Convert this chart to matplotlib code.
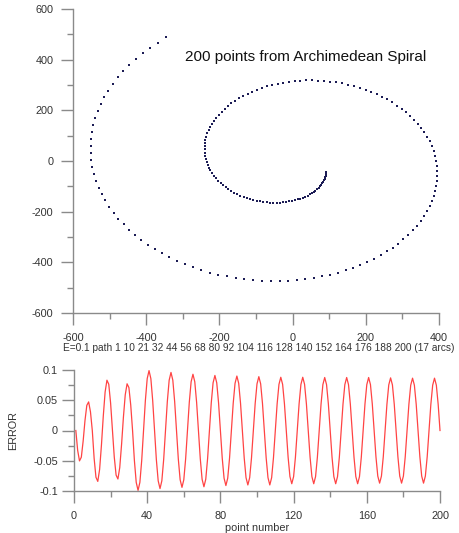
import numpy as np
import matplotlib.pyplot as plt
from matplotlib.ticker import MultipleLocator, FuncFormatter

plt.rcParams['font.family'] = ['Liberation Sans', 'DejaVu Sans']
plt.rcParams['axes.unicode_minus'] = False

# spiral: r = 50*t, 200 points, t = 2, 2.05, ... (clockwise)
spiral_scale = 50.0
t_start = 2.0
t_step = 0.05
n_points = 200

# arc break points (from the path label) and the error lobes of each arc
arc_breaks = [1, 10, 21, 32, 44, 56, 68, 80, 92, 104, 116, 128, 140, 152, 164, 176, 188, 200]
arc_low = [0.051, 0.085, 0.081, 0.099, 0.096, 0.094, 0.093, 0.091, 0.090,
           0.090, 0.088, 0.088, 0.088, 0.088, 0.087, 0.087, 0.087]
arc_high = [0.048, 0.084, 0.078, 0.099, 0.096, 0.093, 0.091, 0.090, 0.089,
            0.088, 0.088, 0.0876, 0.0876, 0.0876, 0.087, 0.0865, 0.0865]

title = "200 points from Archimedean Spiral"
path_label = "E=0.1 path " + " ".join(str(b) for b in arc_breaks) + " (%d arcs)" % (len(arc_breaks) - 1)

t = t_start + t_step * np.arange(n_points)
xs = spiral_scale * t * np.sin(t)
ys = spiral_scale * t * np.cos(t)

pt = []
err = []
for k in range(len(arc_breaks) - 1):
    a, b = arc_breaks[k], arc_breaks[k + 1]
    last = (k == len(arc_breaks) - 2)
    for i in range(a, b + 1 if last else b):
        u = (i - a) / (b - a)
        s = np.sin(2 * np.pi * u)
        amp = arc_low[k] if u <= 0.5 else arc_high[k]
        pt.append(i)
        err.append(-amp * s)

spine_col = '#8a8a8a'
lab_col = '#333333'


def style(ax, pad_x, pad_y):
    for s in ['top', 'right']:
        ax.spines[s].set_visible(False)
    for s in ['left', 'bottom']:
        ax.spines[s].set_color(spine_col)
        ax.spines[s].set_linewidth(1.0)
    ax.tick_params(which='major', length=8.5, width=1.0, color=spine_col,
                   labelsize=7.8, labelcolor=lab_col)
    ax.tick_params(which='minor', length=4.5, width=1.0, color=spine_col)
    ax.tick_params(axis='x', pad=pad_x)
    ax.tick_params(axis='y', pad=pad_y)


fig = plt.figure(figsize=(4.59, 5.33), dpi=100)

ax1 = fig.add_axes([73 / 459, 1 - 313 / 533, 366 / 459, 304 / 533])
ax1.plot(xs, ys, 's', ms=1.8, color='#1c1c55', mew=0, clip_on=False)
ax1.set_xlim(-600, 400)
ax1.set_ylim(-600, 600)
ax1.xaxis.set_major_locator(MultipleLocator(200))
ax1.xaxis.set_minor_locator(MultipleLocator(100))
ax1.yaxis.set_major_locator(MultipleLocator(200))
ax1.yaxis.set_minor_locator(MultipleLocator(100))
style(ax1, 6, 5.5)
ax1.text(-294, 410, title, ha='left', va='center', fontsize=11, color='#111111')

fig.text(259 / 459, 1 - 348 / 533, path_label, ha='center', va='center',
         fontsize=7.3, color=lab_col)

ax2 = fig.add_axes([74 / 459, 1 - 491 / 533, 366 / 459, 121 / 533])
ax2.plot(pt, err, color='#ff4444', lw=0.9, clip_on=False)
ax2.set_xlim(0, 200)
ax2.set_ylim(-0.1, 0.1)
ax2.xaxis.set_major_locator(MultipleLocator(40))
ax2.xaxis.set_minor_locator(MultipleLocator(20))
ax2.yaxis.set_major_locator(MultipleLocator(0.05))
ax2.yaxis.set_minor_locator(MultipleLocator(0.025))
ax2.yaxis.set_major_formatter(FuncFormatter(lambda v, p: '%g' % round(v, 3)))
style(ax2, 6, 3)
ax2.set_xlabel('point number', fontsize=7.8, color=lab_col, labelpad=1)
ax2.set_ylabel('ERROR', fontsize=7.8, color=lab_col, labelpad=11)

fig.savefig('out.png', dpi=100)
